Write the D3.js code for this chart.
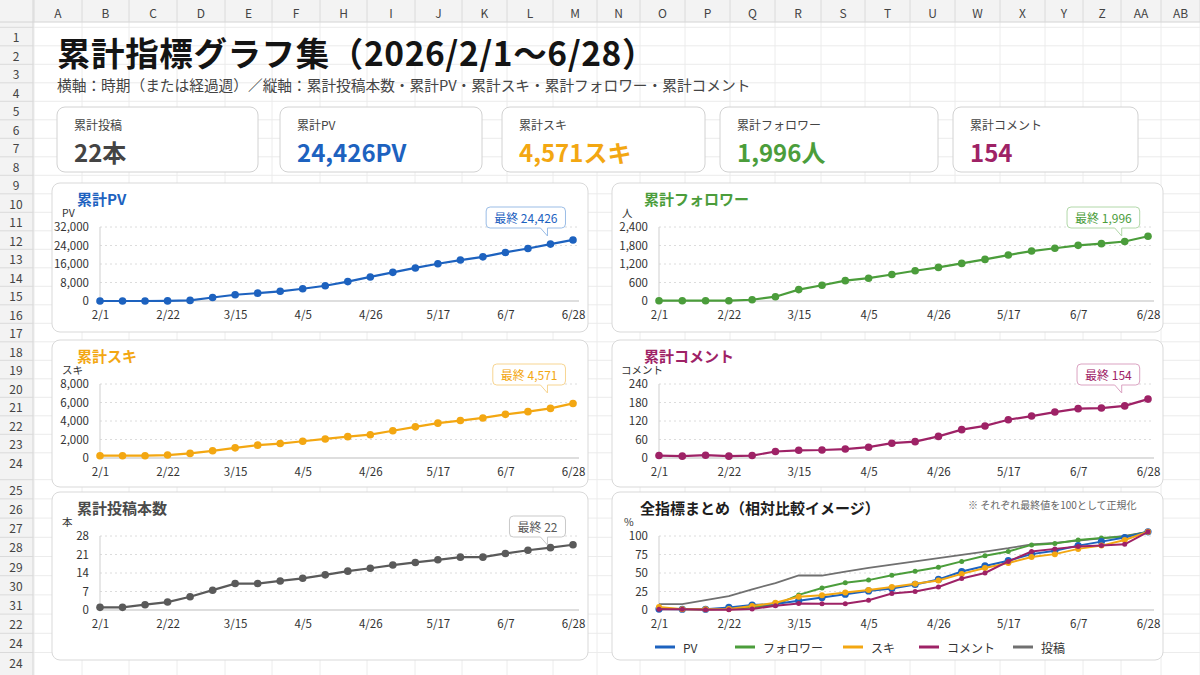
<!DOCTYPE html>
<html lang="ja">
<head>
<meta charset="utf-8">
<title>累計指標グラフ集</title>
<script src="https://d3js.org/d3.v7.min.js"></script>
<style>
    body { margin: 0; background: #fff; }
    svg { display: block; font-family: "Noto Sans CJK JP", "Noto Sans", sans-serif; }
</style>
</head>
<body>
<svg id="sheet"></svg>
<script>
    // weekly points, 2026/2/1 - 6/28
    var weeks = ["2/1", "2/8", "2/15", "2/22", "3/1", "3/8", "3/15", "3/22", "3/29", "4/5", "4/12",
        "4/19", "4/26", "5/3", "5/10", "5/17", "5/24", "5/31", "6/7", "6/14", "6/21", "6/28"];
    var xTickLabels = ["2/1", "2/22", "3/15", "4/5", "4/26", "5/17", "6/7", "6/28"];

    var pvValues = [0, 0, 0, 50, 250, 1500, 2700, 3400, 4200, 5300, 6600, 8400, 10400, 12400,
        14300, 16100, 17700, 19100, 21000, 22700, 24600, 26400];
    var followerValues = [10, 10, 10, 10, 40, 140, 370, 510, 660, 740, 860, 980, 1090, 1220,
        1350, 1490, 1620, 1710, 1805, 1860, 1930, 2100];
    var sukiValues = [250, 250, 250, 320, 500, 780, 1100, 1390, 1560, 1810, 2060, 2310, 2520, 2950,
        3370, 3770, 4050, 4330, 4720, 5010, 5360, 5900];
    var commentValues = [8, 6, 9, 6, 8, 21, 25, 26, 29, 35, 48, 53, 70, 92, 104, 124, 136, 149,
        160, 162, 169, 191];
    var postValues = [1, 1, 2, 3, 5, 7.5, 10, 10, 11, 12, 13.3, 14.7, 15.8, 17, 18, 19, 20, 20,
        21.4, 22.6, 23.6, 24.7];

    // normalized (final = 100) series of the summary chart
    var pvRel = [1.3, 1, 1, 3.5, 6.7, 8, 12.4, 16.9, 21.3, 25.8, 28.9, 34.6, 41.3, 52, 59.5, 66.6,
        75.5, 80, 87, 92.4, 98, 105.7];
    var followerRel = [1.8, 1.3, 1, 1.8, 3.5, 7, 20.4, 29.7, 36.9, 40.4, 47, 52.4, 57.7, 65.7, 73.3,
        79, 88, 90, 94.6, 97.2, 99, 105.7];
    var sukiRel = [4, 1, 1, 1.3, 5.3, 9.8, 17.8, 20, 23.5, 27, 31, 35.5, 40, 48.8, 56.8, 63.5, 71.5,
        75.5, 82.6, 87, 94.6, 105.7];
    var commentRel = [1, 1, 0.5, 0.5, 1.3, 5.8, 8.9, 8.4, 8.4, 13.3, 22.2, 24.9, 31, 42.6, 50, 65.7,
        79, 82.6, 85.7, 87, 88.8, 105.7];
    var postRel = [8, 8, 13.3, 18.6, 28, 36.4, 46.6, 46.6, 52, 56.8, 61.3, 65.7, 70, 74.6, 79, 83.5,
        88.8, 90.6, 93.7, 96.8, 100, 105.7];

    var pvTicks = [0, 8000, 16000, 24000, 32000];
    var followerTicks = [0, 600, 1200, 1800, 2400];
    var sukiTicks = [0, 2000, 4000, 6000, 8000];
    var commentTicks = [0, 60, 120, 180, 240];
    var postTicks = [0, 7, 14, 21, 28];
    var relTicks = [0, 25, 50, 75, 100];

    var finalPv = 24426, finalFollower = 1996, finalSuki = 4571, finalComment = 154, finalPost = 22;

    var kpiLabels = ["累計投稿", "累計PV", "累計スキ", "累計フォロワー", "累計コメント"];
    var kpiValues = ["22本", "24,426PV", "4,571スキ", "1,996人", "154"];
    var legendNames = ["PV", "フォロワー", "スキ", "コメント", "投稿"];

    var columnLabels = ["A", "B", "C", "D", "E", "F", "H", "I", "J", "K", "L", "M", "N", "O", "P",
        "Q", "R", "S", "T", "U", "W", "X", "Y", "Z", "AA", "AB"];
    var rowLabels = ["1", "2", "3", "4", "5", "6", "7", "8", "9", "10", "11", "12", "13", "14", "15",
        "16", "17", "18", "19", "20", "21", "22", "23", "24", "25", "26", "27", "28", "29", "30",
        "31", "22", "24", "24"];

    var colors = {
        pv: "#1d62bf", follower: "#4b9d3b", suki: "#f3a712", comment: "#9e2266", post: "#5a5a5a"
    };
    var softColors = {
        pv: "#9bbde6", follower: "#b2d8a9", suki: "#f7d592", comment: "#dba3c2", post: "#c9c9c9"
    };

    var width = 1200, height = 675;
    var svg = d3.select("#sheet").attr("width", width).attr("height", height);

    // ---- spreadsheet background ----
    var colWidths = [48, 47, 48, 48, 47, 48, 47, 48, 47, 45, 46, 44, 43, 45, 45, 45, 46, 44, 45, 45,
        45, 45, 38, 38, 40, 39];
    var colEdges = [34];
    colWidths.forEach(function (w, i) { colEdges.push(colEdges[i] + w); });
    var rowTops = rowLabels.map(function (d, i) {
        return i < 24 ? 27.3 + i * 18.5 : 479.7 + (i - 24) * 19.2;
    });
    var rowH = function (i) { return i < 24 ? 18.5 : 19.2; };

    var bg = svg.append("g");
    bg.selectAll(".vgrid").data(colEdges).join("line")
        .attr("x1", function (d) { return d; }).attr("x2", function (d) { return d; })
        .attr("y1", 22).attr("y2", height)
        .attr("stroke", "#ececec");
    bg.selectAll(".hgrid").data(rowTops).join("line")
        .attr("x1", 33).attr("x2", width)
        .attr("y1", function (d) { return d; }).attr("y2", function (d) { return d; })
        .attr("stroke", "#ececec");

    bg.append("rect").attr("x", 0).attr("y", 0).attr("width", width).attr("height", 22).attr("fill", "#f3f3f3");
    bg.append("rect").attr("x", 0).attr("y", 22).attr("width", 33).attr("height", height - 22).attr("fill", "#f3f3f3");
    bg.append("line").attr("x1", 0).attr("x2", width).attr("y1", 22).attr("y2", 22).attr("stroke", "#d4d4d4");
    bg.append("line").attr("x1", 33).attr("x2", 33).attr("y1", 0).attr("y2", height).attr("stroke", "#d4d4d4");

    bg.selectAll(".colsep").data(colEdges).join("line")
        .attr("x1", function (d) { return d; }).attr("x2", function (d) { return d; })
        .attr("y1", 0).attr("y2", 22)
        .attr("stroke", "#dadada");
    bg.selectAll(".collab").data(columnLabels).join("text")
        .attr("x", function (d, i) { return (colEdges[i] + colEdges[i + 1]) / 2; })
        .attr("y", 12)
        .attr("text-anchor", "middle").attr("dominant-baseline", "central")
        .attr("font-size", 12).attr("fill", "#444")
        .text(function (d) { return d; });

    bg.selectAll(".rowsep").data(rowTops).join("line")
        .attr("x1", 0).attr("x2", 33)
        .attr("y1", function (d) { return d; }).attr("y2", function (d) { return d; })
        .attr("stroke", "#dadada");
    bg.selectAll(".rowlab").data(rowLabels).join("text")
        .attr("x", 16)
        .attr("y", function (d, i) { return rowTops[i] + rowH(i) / 2; })
        .attr("text-anchor", "middle").attr("dominant-baseline", "central")
        .attr("font-size", 12).attr("fill", "#444")
        .text(function (d) { return d; });

    // ---- title ----
    svg.append("text")
        .attr("x", 57).attr("y", 51)
        .attr("dominant-baseline", "central")
        .attr("font-size", 33.5).attr("font-weight", 700).attr("fill", "#141414")
        .attr("letter-spacing", 0.6)
        .text("累計指標グラフ集（2026/2/1～6/28）");
    svg.append("text")
        .attr("x", 57).attr("y", 84)
        .attr("dominant-baseline", "central")
        .attr("font-size", 14.7).attr("fill", "#444")
        .text("横軸：時期（または経過週）／縦軸：累計投稿本数・累計PV・累計スキ・累計フォロワー・累計コメント");

    // ---- KPI cards ----
    var cardX = [57, 280, 502, 720, 953];
    var cardW = [201, 202, 203, 218, 185];
    var kpiColors = ["#444", colors.pv, colors.suki, colors.follower, colors.comment];

    var cards = svg.append("g").selectAll("g").data(kpiLabels).join("g")
        .attr("transform", function (d, i) { return "translate(" + cardX[i] + ",107)"; });
    cards.append("rect")
        .attr("width", function (d, i) { return cardW[i]; })
        .attr("height", 65).attr("rx", 8)
        .attr("fill", "#fff").attr("stroke", "#d2d2d2");
    cards.append("text")
        .attr("x", 17).attr("y", 17)
        .attr("dominant-baseline", "central")
        .attr("font-size", 12).attr("fill", "#444")
        .text(function (d) { return d; });
    cards.append("text")
        .attr("x", 17).attr("y", 44)
        .attr("dominant-baseline", "central")
        .attr("font-size", 24).attr("font-weight", 700)
        .attr("fill", function (d, i) { return kpiColors[i]; })
        .text(function (d, i) { return kpiValues[i]; });

    // ---- chart panels ----
    var leftX = [100, 573], rightX = [659, 1148];

    function calloutPath(l, t, w, h, tx) {
        var r = 4, b = t + h;
        return "M" + (l + r) + "," + t + " H" + (l + w - r) + " Q" + (l + w) + "," + t + " " + (l + w) + "," + (t + r) +
            " V" + (b - r) + " Q" + (l + w) + "," + b + " " + (l + w - r) + "," + b +
            " H" + tx + " L" + tx + "," + (b + 8) + " L" + (tx - 7) + "," + b +
            " H" + (l + r) + " Q" + l + "," + b + " " + l + "," + (b - r) + " V" + (t + r) + " Q" + l + "," + t + " " + (l + r) + "," + t + " Z";
    }

    function drawFrame(p) {
        var g = svg.append("g");
        g.append("rect")
            .attr("x", p.x).attr("y", p.y).attr("width", p.w).attr("height", p.h).attr("rx", 8)
            .attr("fill", "#fff").attr("stroke", "#d9d9d9");
        g.append("text")
            .attr("x", p.x + p.titleDx).attr("y", p.y + 15)
            .attr("dominant-baseline", "central")
            .attr("font-size", 15).attr("font-weight", 700).attr("fill", p.titleColor)
            .text(p.title);
        g.append("text")
            .attr("x", p.x + p.unitDx).attr("y", p.y + 29)
            .attr("dominant-baseline", "central")
            .attr("font-size", 10.5).attr("fill", "#333")
            .text(p.unit);

        var top = p.y + 44, bottom = p.y + 118;
        var x = d3.scalePoint().domain(weeks).range(p.plotX);
        var y = d3.scaleLinear().domain([0, p.ticks[p.ticks.length - 1]]).range([bottom, top]);

        g.append("g").selectAll("line").data(p.ticks.slice(1)).join("line")
            .attr("x1", p.plotX[0]).attr("x2", p.plotX[1] + 4)
            .attr("y1", function (d) { return y(d); }).attr("y2", function (d) { return y(d); })
            .attr("stroke", "#dcdcdc").attr("stroke-dasharray", "2,3");
        g.append("line")
            .attr("x1", p.plotX[0]).attr("x2", p.plotX[0]).attr("y1", top).attr("y2", bottom)
            .attr("stroke", "#cfcfcf");
        g.append("line")
            .attr("x1", p.plotX[0]).attr("x2", p.plotX[1] + 6).attr("y1", bottom).attr("y2", bottom)
            .attr("stroke", "#bdbdbd").attr("stroke-width", 1.2);

        var yaxis = d3.axisLeft(y).tickValues(p.ticks).tickFormat(d3.format(",")).tickSize(0).tickPadding(11);
        var xaxis = d3.axisBottom(x).tickValues(xTickLabels).tickSize(0).tickPadding(10);
        [g.append("g").attr("transform", "translate(" + p.plotX[0] + ",0)").call(yaxis),
         g.append("g").attr("transform", "translate(0," + bottom + ")").call(xaxis)].forEach(function (a) {
            a.attr("font-family", null).attr("font-size", null);
            a.select(".domain").remove();
            a.selectAll("text").attr("font-size", 11.5).attr("fill", "#333");
        });
        return { g: g, x: x, y: y, top: top, bottom: bottom };
    }

    function drawSingle(p) {
        var c = drawFrame(p);
        var line = d3.line()
            .x(function (d, i) { return c.x(weeks[i]); })
            .y(function (d) { return c.y(d); });
        c.g.append("path").datum(p.values)
            .attr("d", line).attr("fill", "none")
            .attr("stroke", p.color).attr("stroke-width", 2.2);
        c.g.append("g").selectAll("circle").data(p.values).join("circle")
            .attr("cx", function (d, i) { return c.x(weeks[i]); })
            .attr("cy", function (d) { return c.y(d); })
            .attr("r", 3.8).attr("fill", p.color);

        // callout with final value
        var ax = c.x(weeks[weeks.length - 2]);
        var bubble = c.g.append("path")
            .attr("fill", "#fff").attr("stroke", p.soft);
        var label = c.g.append("text")
            .attr("dominant-baseline", "central")
            .attr("font-size", 12).attr("fill", p.color)
            .text("最終 " + d3.format(",")(p.final));
        var tw = label.node().getComputedTextLength();
        var bw = tw + 16, bh = 21, bl = ax + 15 - bw, bt = c.top - 20;
        bubble.attr("d", calloutPath(bl, bt, bw, bh, ax - 3));
        label.attr("x", bl + 8).attr("y", bt + bh / 2);
    }

    drawSingle({ title: "累計PV", unit: "PV", values: pvValues, ticks: pvTicks, final: finalPv,
        color: colors.pv, soft: softColors.pv, titleColor: colors.pv,
        x: 52, y: 183, w: 536, h: 149, titleDx: 25, unitDx: 10, plotX: leftX });
    drawSingle({ title: "累計フォロワー", unit: "人", values: followerValues, ticks: followerTicks, final: finalFollower,
        color: colors.follower, soft: softColors.follower, titleColor: colors.follower,
        x: 612, y: 183, w: 551, h: 149, titleDx: 32, unitDx: 10, plotX: rightX });
    drawSingle({ title: "累計スキ", unit: "スキ", values: sukiValues, ticks: sukiTicks, final: finalSuki,
        color: colors.suki, soft: softColors.suki, titleColor: colors.suki,
        x: 52, y: 340, w: 536, h: 147, titleDx: 25, unitDx: 10, plotX: leftX });
    drawSingle({ title: "累計コメント", unit: "コメント", values: commentValues, ticks: commentTicks, final: finalComment,
        color: colors.comment, soft: softColors.comment, titleColor: colors.comment,
        x: 612, y: 340, w: 551, h: 147, titleDx: 32, unitDx: 9, plotX: rightX });
    drawSingle({ title: "累計投稿本数", unit: "本", values: postValues, ticks: postTicks, final: finalPost,
        color: colors.post, soft: softColors.post, titleColor: "#4a4a4a",
        x: 52, y: 492, w: 536, h: 168, titleDx: 25, unitDx: 10, plotX: leftX });

    // ---- summary (normalized) ----
    var sp = { title: "全指標まとめ（相対比較イメージ）", unit: "%", ticks: relTicks, titleColor: "#1e1e1e",
        x: 612, y: 492, w: 551, h: 168, titleDx: 28, unitDx: 12, plotX: rightX };
    var sc = drawFrame(sp);
    sc.g.append("text")
        .attr("x", 968).attr("y", sp.y + 12)
        .attr("dominant-baseline", "central")
        .attr("font-size", 10).attr("fill", "#666")
        .text("※ それぞれ最終値を100として正規化");

    var relSeries = [
        { values: postRel, color: "#707070", r: 0, w: 1.8 },
        { values: followerRel, color: colors.follower, r: 2.5, w: 2 },
        { values: pvRel, color: colors.pv, r: 3.6, w: 2 },
        { values: sukiRel, color: colors.suki, r: 3, w: 2 },
        { values: commentRel, color: colors.comment, r: 2.5, w: 2 }
    ];
    var relLine = d3.line()
        .x(function (d, i) { return sc.x(weeks[i]); })
        .y(function (d) { return sc.y(d); });
    relSeries.forEach(function (s) {
        sc.g.append("path").datum(s.values)
            .attr("d", relLine).attr("fill", "none")
            .attr("stroke", s.color).attr("stroke-width", s.w);
        if (s.r > 0) {
            sc.g.append("g").selectAll("circle").data(s.values).join("circle")
                .attr("cx", function (d, i) { return sc.x(weeks[i]); })
                .attr("cy", function (d) { return sc.y(d); })
                .attr("r", s.r).attr("fill", s.color);
        }
    });

    // legend
    var legendX = [655, 735, 843, 919, 1013];
    var legendColors = [colors.pv, colors.follower, colors.suki, colors.comment, "#707070"];
    var legend = sc.g.append("g").selectAll("g").data(legendNames).join("g")
        .attr("transform", function (d, i) { return "translate(" + legendX[i] + ",647)"; });
    legend.append("line")
        .attr("x1", 0).attr("x2", 20)
        .attr("stroke", function (d, i) { return legendColors[i]; })
        .attr("stroke-width", 3);
    legend.append("text")
        .attr("x", 28)
        .attr("dominant-baseline", "central")
        .attr("font-size", 12).attr("fill", "#333")
        .text(function (d) { return d; });
</script>
</body>
</html>
